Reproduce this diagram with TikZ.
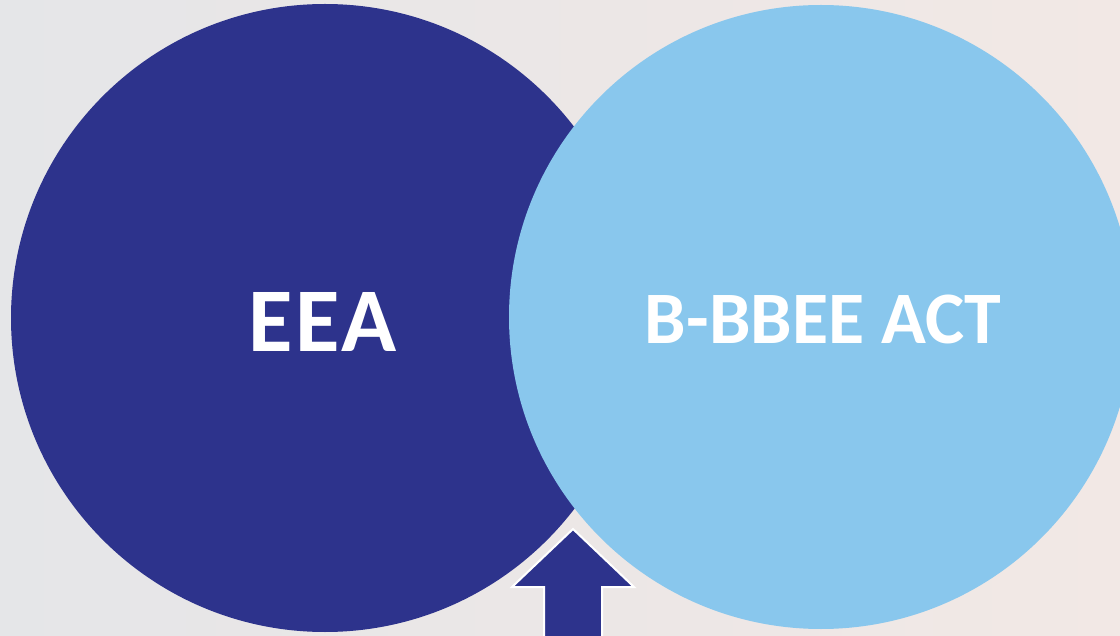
\documentclass[tikz,border=0pt]{standalone}
\usepackage{fontspec}
\setmainfont{Carlito}
\newfontfamily\widefont[LetterSpace=3]{Carlito}
\definecolor{darkblue}{HTML}{2D338C}
\definecolor{lightblue}{HTML}{89C7ED}
\definecolor{bgleft}{HTML}{E5E6E8}
\definecolor{bgright}{HTML}{F2E8E5}
\begin{document}
\begin{tikzpicture}[x=1pt,y=-1pt,
  bubble/.style={circle,inner sep=0pt,minimum size=628pt},
  lbl/.style={text=white,font=\bfseries}]
\useasboundingbox (0,0) rectangle (1120,636);
\shade[left color=bgleft,right color=bgright] (0,0) rectangle (1120,636);
\node[bubble,fill=darkblue] (eea) at (325,318) {};
\node[bubble,fill=lightblue,minimum size=624pt] (bbbee) at (821,317) {};
\node[lbl,font=\widefont\bfseries\fontsize{91}{91}\selectfont] (eeat) at (323,322) {EEA};
\node[lbl,font=\bfseries\fontsize{74}{74}\selectfont] (bbt) at (823,319) {B-BBEE ACT};
\filldraw[fill=darkblue,draw=white,line width=2pt]
  (544,640) -- (544,587) -- (512,587) -- (573,529) -- (634,587) -- (602,587) -- (602,640);
\end{tikzpicture}
\end{document}
